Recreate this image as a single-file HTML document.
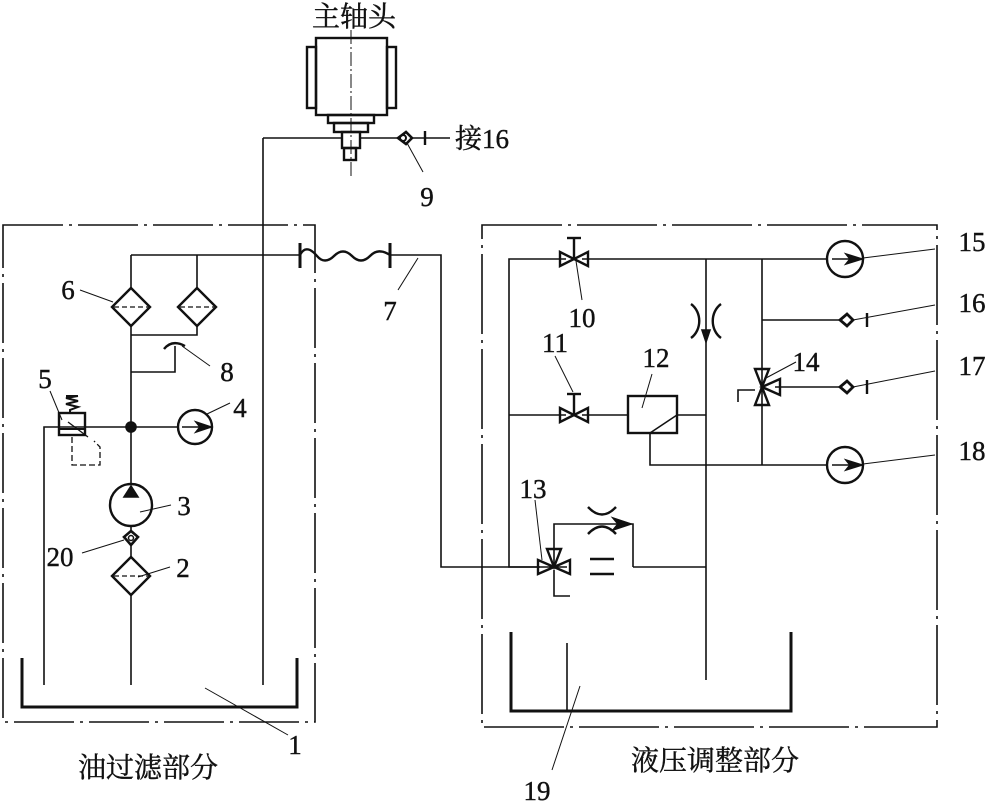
<!DOCTYPE html>
<html><head><meta charset="utf-8"><style>
html,body{margin:0;padding:0;background:#fff}
svg{display:block}
text{font-family:"Liberation Serif","Noto Serif CJK SC",serif;fill:#111;stroke:#111;stroke-width:0.4}
.c{font-family:"Liberation Serif","Noto Serif CJK SC","Noto Sans CJK SC",serif}
</style></head><body>
<svg width="989" height="802" viewBox="0 0 989 802" xmlns="http://www.w3.org/2000/svg" stroke="#111" fill="none" stroke-width="1.6">
<rect x="3" y="225" width="312" height="497" stroke-dasharray="60,6,3,6"/>
<rect x="482" y="225" width="455" height="502" stroke-dasharray="80,6,3,6"/>
<g stroke-width="2.4">
<rect x="316" y="38" width="71" height="77"/>
<rect x="307" y="47" width="9" height="61"/>
<rect x="387" y="47" width="9" height="61"/>
<rect x="328" y="115" width="46" height="8"/>
<rect x="334" y="123" width="34" height="9"/>
<rect x="342" y="132" width="18" height="16"/>
<rect x="344" y="148" width="12" height="12"/>
</g>
<line x1="351" y1="30" x2="351" y2="176" stroke-width="1" stroke-dasharray="14,3,2,3"/>
<line x1="263" y1="138" x2="342" y2="138"/>
<line x1="360" y1="138" x2="398" y2="138"/>
<path d="M398 138 L406 132 L412 138 L406 144 Z" stroke-width="2.6"/>
<circle cx="403" cy="138" r="3" stroke-width="2"/>
<line x1="412" y1="138" x2="450" y2="138"/>
<line x1="425" y1="131" x2="425" y2="145" stroke-width="2.4"/>
<line x1="407" y1="143" x2="423" y2="172" stroke-width="1"/>
<line x1="263" y1="138" x2="263" y2="685"/>
<line x1="131" y1="255" x2="300" y2="255"/>
<line x1="300" y1="243" x2="300" y2="268" stroke-width="3"/>
<line x1="390" y1="243" x2="390" y2="268" stroke-width="3"/>
<path d="M300 255 C305 245 312 250 317 256 C322 262 328 262 334 256 C340 250 346 250 352 256 C358 262 364 262 370 256 C376 250 382 250 390 255" stroke-width="2.4"/>
<polyline points="390,255 441,255 441,567 540,567"/>
<line x1="398" y1="290" x2="418" y2="258" stroke-width="1"/>
<line x1="131" y1="255" x2="131" y2="288"/>
<line x1="197" y1="255" x2="197" y2="288"/>
<g stroke-width="2.4">
<path d="M131 288 L150 307 L131 326 L112 307 Z"/>
<path d="M197 288 L216 307 L197 326 L178 307 Z"/>
<path d="M131 557 L150 576 L131 595 L112 576 Z"/>
</g>
<g stroke-dasharray="5,3" stroke-width="1.3">
<line x1="114" y1="307" x2="148" y2="307"/>
<line x1="180" y1="307" x2="214" y2="307"/>
<line x1="114" y1="576" x2="148" y2="576"/>
</g>
<line x1="131" y1="326" x2="131" y2="484"/>
<polyline points="131,335 197,335 197,326"/>
<polyline points="131,372 175,372 175,346"/>
<path d="M164 349 Q172 339 185 346" stroke-width="2.4"/>
<line x1="80" y1="290" x2="113" y2="302" stroke-width="1"/>
<line x1="182" y1="346" x2="210" y2="366" stroke-width="1"/>
<circle cx="131" cy="427" r="5" fill="#111"/>
<polyline points="44,685 44,427 178,427"/>
<circle cx="195" cy="427" r="17" stroke-width="2.4"/>
<line x1="182" y1="427" x2="211" y2="427"/>
<path d="M211 427 L196 422 L200 427 L196 432 Z" fill="#111"/>
<line x1="207" y1="414" x2="230" y2="403" stroke-width="1"/>
<rect x="59" y="413" width="26" height="22" stroke-width="2.4"/>
<line x1="59" y1="429" x2="85" y2="429" stroke-width="2"/>
<line x1="68" y1="422" x2="88" y2="437" stroke-width="1.3"/>
<path d="M70 413 L70 410 L78 407 L66 404 L78 401 L66 398 L78 396 M66 396 L78 396" stroke-width="2"/>
<line x1="50" y1="391" x2="62" y2="420" stroke-width="1"/>
<polyline points="72,437 72,465 100,465 100,447 94,441" stroke-dasharray="6,3" stroke-width="1.3"/>
<circle cx="131" cy="505" r="21" stroke-width="2.4"/>
<path d="M131 486 L124 497 L138 497 Z" fill="#111"/>
<line x1="140" y1="512" x2="171" y2="505" stroke-width="1"/>
<line x1="131" y1="526" x2="131" y2="557"/>
<path d="M124 537 L131 545 L138 537 L131 531 Z" fill="#fff" stroke-width="2.6"/>
<circle cx="131" cy="538" r="2.5" stroke-width="1.5"/>
<line x1="82" y1="553" x2="124" y2="540" stroke-width="1"/>
<line x1="138" y1="577" x2="170" y2="567" stroke-width="1"/>
<line x1="131" y1="595" x2="131" y2="685"/>
<polyline points="22,658 22,707 297,707 297,658" stroke-width="3"/>
<line x1="205" y1="688" x2="288" y2="735" stroke-width="1"/>
<polyline points="567,567 509,567 509,259 566,259"/>
<line x1="582" y1="259" x2="828" y2="259"/>
<line x1="509" y1="415" x2="566" y2="415"/>
<line x1="582" y1="415" x2="628" y2="415"/>
<line x1="677" y1="415" x2="706" y2="415"/>
<g stroke-width="2.4">
<path d="M560 252 L560 266 L588 252 L588 266 Z"/>
<path d="M560 408 L560 422 L588 408 L588 422 Z"/>
<line x1="574" y1="259" x2="574" y2="238"/><line x1="567" y1="238" x2="581" y2="238"/>
<line x1="574" y1="415" x2="574" y2="394"/><line x1="567" y1="394" x2="581" y2="394"/>
</g>
<line x1="576" y1="261" x2="582" y2="300" stroke-width="1"/>
<line x1="555" y1="356" x2="573" y2="392" stroke-width="1"/>
<line x1="706" y1="259" x2="706" y2="680"/>
<path d="M691 304 C702 312 702 330 691 338 M721 304 C710 312 710 330 721 338" stroke-width="2.4"/>
<path d="M706 342 L702 330 L710 330 Z" fill="#111"/>
<rect x="628" y="396" width="49" height="37" stroke-width="2.4"/>
<line x1="650" y1="433" x2="677" y2="415" stroke-width="1.6"/>
<line x1="642" y1="408" x2="652" y2="374" stroke-width="1"/>
<polyline points="650,433 650,465 828,465"/>
<line x1="762" y1="259" x2="762" y2="465"/>
<line x1="762" y1="320" x2="840" y2="320"/>
<line x1="775" y1="387" x2="840" y2="387"/>
<g stroke-width="2.4">
<path d="M755 369 L769 369 L755 405 L769 405 Z"/>
<path d="M780 379 L780 395 L762 387 Z"/>
<path d="M840 320 L847 314 L853 320 L847 326 Z" stroke-width="2.8"/>
<path d="M840 387 L847 381 L853 387 L847 393 Z" stroke-width="2.8"/>
<line x1="867" y1="313" x2="867" y2="327"/>
<line x1="867" y1="380" x2="867" y2="394"/>
</g>
<polyline points="738,402 738,390 755,390" stroke-width="1.6"/>
<line x1="853" y1="320" x2="935" y2="305" stroke-width="1"/>
<line x1="853" y1="387" x2="935" y2="371" stroke-width="1"/>
<line x1="766" y1="378" x2="796" y2="362" stroke-width="1"/>
<circle cx="845" cy="259" r="18" stroke-width="2.4"/>
<circle cx="845" cy="465" r="18" stroke-width="2.4"/>
<line x1="832" y1="259" x2="862" y2="259"/><line x1="832" y1="465" x2="862" y2="465"/>
<path d="M862 259 L846 254 L850 259 L846 264 Z" fill="#111"/>
<path d="M862 465 L846 460 L850 465 L846 470 Z" fill="#111"/>
<line x1="863" y1="258" x2="935" y2="249" stroke-width="1"/>
<line x1="863" y1="464" x2="935" y2="455" stroke-width="1"/>
<g stroke-width="2.4">
<path d="M538 560 L538 574 L570 560 L570 574 Z"/>
<path d="M547 549 L561 549 L554 567 Z"/>
<line x1="590" y1="559" x2="614" y2="559"/>
<line x1="590" y1="574" x2="614" y2="574"/>
<path d="M588 507 Q602 522 616 507"/>
<path d="M588 534 Q602 519 616 534"/>
</g>
<polyline points="554,567 554,524 633,524 633,567"/>
<path d="M631 524 L613 518 L618 524 L613 530 Z" fill="#111"/>
<line x1="633" y1="567" x2="706" y2="567"/>
<polyline points="554,570 554,596 570,596"/>
<line x1="535" y1="500" x2="542" y2="560" stroke-width="1"/>
<polyline points="511,632 511,711 791,711 791,632" stroke-width="3"/>
<line x1="567" y1="643" x2="567" y2="711"/>
<line x1="580" y1="686" x2="552" y2="770" stroke-width="1"/>
<g font-size="27">
<text x="354" y="26" text-anchor="middle" class="c" font-size="28">主轴头</text>
<text x="455" y="148" class="c">接16</text>
<text x="427" y="206" text-anchor="middle">9</text>
<text x="390" y="320" text-anchor="middle">7</text>
<text x="68" y="299" text-anchor="middle">6</text>
<text x="227" y="381" text-anchor="middle">8</text>
<text x="45" y="388" text-anchor="middle">5</text>
<text x="240" y="417" text-anchor="middle">4</text>
<text x="184" y="515" text-anchor="middle">3</text>
<text x="60" y="566" text-anchor="middle">20</text>
<text x="183" y="577" text-anchor="middle">2</text>
<text x="295" y="754" text-anchor="middle">1</text>
<text x="582" y="327" text-anchor="middle">10</text>
<text x="555" y="352" text-anchor="middle">11</text>
<text x="656" y="367" text-anchor="middle">12</text>
<text x="533" y="498" text-anchor="middle">13</text>
<text x="806" y="371" text-anchor="middle">14</text>
<text x="972" y="251" text-anchor="middle">15</text>
<text x="972" y="312" text-anchor="middle">16</text>
<text x="972" y="375" text-anchor="middle">17</text>
<text x="972" y="460" text-anchor="middle">18</text>
<text x="537" y="800" text-anchor="middle">19</text>
<text x="148" y="777" text-anchor="middle" class="c" font-size="28">油过滤部分</text>
<text x="715" y="770" text-anchor="middle" class="c" font-size="28">液压调整部分</text>
</g>
</svg>
</body></html>
